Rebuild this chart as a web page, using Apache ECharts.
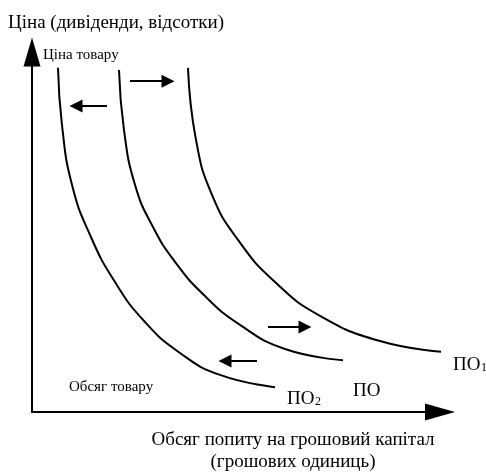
<!DOCTYPE html>
<html>
<head>
<meta charset="utf-8">
<script src="https://cdn.jsdelivr.net/npm/echarts@6/dist/echarts.min.js"></script>
<style>html,body{margin:0;padding:0;background:#fff}#c{width:486px;height:473px}</style>
</head>
<body>
<div id="c"></div>
<script>
// Demand curves [quantity, price] in arbitrary units
var curvePO2 = [[6.5,95.6],[7.5,79.7],[10,63.1],[14.5,49.2],[20.75,36.1],[28.25,25],[37,16.4],[47,10.3],[60.75,6.9]];
var curvePO  = [[21.75,95],[23,78.3],[25.75,63.1],[30,51.9],[35.75,41.7],[43.25,32.2],[52,24.2],[63.25,17.5],[77.75,14.4]];
var curvePO1 = [[39,95.6],[41,75.6],[45,60.3],[51.5,47.8],[60.75,36.1],[72,26.7],[87,19.7],[102.75,16.7]];
// Shift arrows [from, to]
var shiftArrows = [
  [[18.75,85.0],[11.0,85.0]],
  [[24.5,91.9],[34.0,91.9]],
  [[59.0,23.6],[68.25,23.6]],
  [[56.25,14.2],[48.25,14.2]]
];
var yAxisTitle = 'Ціна (дивіденди, відсотки)';
var xAxisTitle = ['Обсяг попиту на грошовий капітал', '(грошових одиниць)'];
var curveLabels = ['ПО', 'ПО', 'ПО'];
var curveSubs = ['2', '', '1'];

var chart = echarts.init(document.getElementById('c'), null, {renderer:'canvas'});
var F = 'Liberation Serif';
function curve(d){
  return {type:'line', data:d, smooth:0.5, symbol:'none', clip:false,
    lineStyle:{color:'#000', width:2}, silent:true};
}
function txt(x,y,t,size,align){
  return {type:'text', x:x, y:y, style:{text:t, font:size+'px "'+F+'"', fill:'#000', textAlign:align||'left', textVerticalAlign:'middle'}};
}
var option = {
  animation:false,
  grid:{left:32, top:52, width:408, height:360, containLabel:false},
  xAxis:{type:'value', min:0, max:102, axisLine:{show:true, symbol:['none','triangle'], symbolSize:[17,30], lineStyle:{color:'#000', width:2}}, axisTick:{show:false}, axisLabel:{show:false}, splitLine:{show:false}},
  yAxis:{type:'value', min:0, max:100, axisLine:{show:true, symbol:['none','triangle'], symbolSize:[17,29], lineStyle:{color:'#000', width:2}}, axisTick:{show:false}, axisLabel:{show:false}, splitLine:{show:false}},
  series:[
    curve(curvePO2), curve(curvePO), curve(curvePO1),
    {type:'lines', coordinateSystem:'cartesian2d', symbol:['none','triangle'], symbolSize:13,
     lineStyle:{color:'#000', width:2, opacity:1}, itemStyle:{color:'#000'},
     data: shiftArrows.map(function(a){return {coords:a};})}
  ],
  graphic:[
    txt(8,23,yAxisTitle,19),
    txt(43,55,'Ціна товару',15),
    txt(69,387.5,'Обсяг товару',15),
    txt(287,399.5,curveLabels[0],19), txt(315,402,curveSubs[0],12),
    txt(353,391.5,curveLabels[1],19),
    txt(453,365.5,curveLabels[2],19), txt(481,368,curveSubs[2],12),
    txt(293,440,xAxisTitle[0],19,'center'),
    txt(293,462,xAxisTitle[1],19,'center')
  ]
};
chart.setOption(option);
</script>
</body>
</html>
